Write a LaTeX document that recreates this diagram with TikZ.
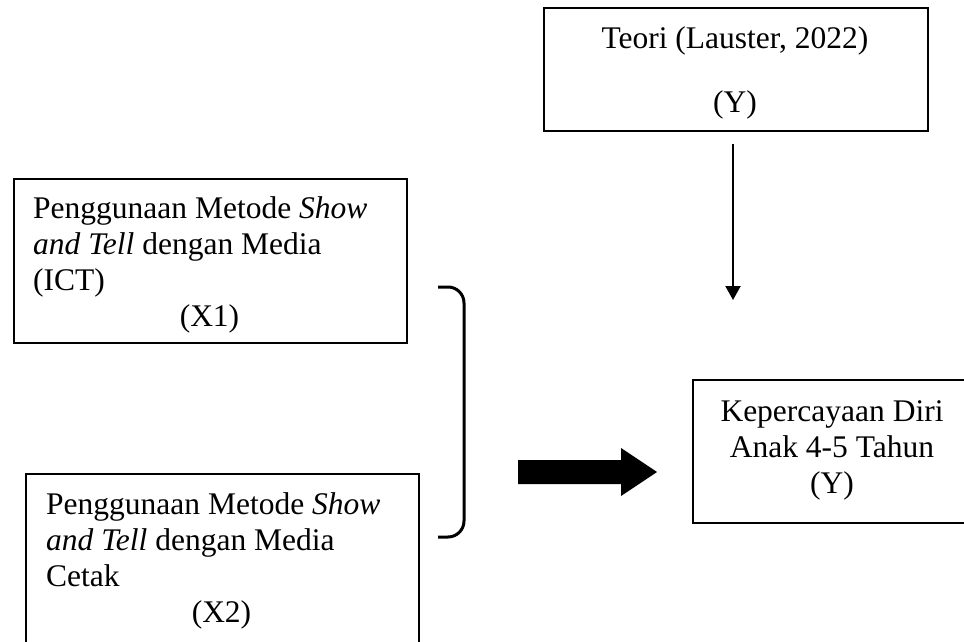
\documentclass[tikz,border=0pt]{standalone}
\usepackage{fontspec}
\setmainfont{Liberation Serif}
\usetikzlibrary{arrows.meta}
\tikzset{
  kotak/.style={draw, line width=2.2pt, inner sep=0pt, anchor=north west},
  baris/.style={anchor=base west, inner sep=0pt},
  tengah/.style={anchor=base, inner sep=0pt},
}
\begin{document}
\begin{tikzpicture}[x=1pt,y=-1pt,font=\fontsize{31.5}{36}\selectfont]
\useasboundingbox (0,0) rectangle (964,642);
\clip (0,0) rectangle (964,642);
% kotak variabel X
\foreach \i/\bx/\by/\h in {1/13/178/164,2/25/473/200} {
  \node[kotak, minimum width=393pt, minimum height=\h pt] (X\i) at (\bx,\by) {};
}
\foreach \i/\x/\y/\c/\m in {1/33/218/209.5/{(ICT)},2/46/514/221.5/Cetak} {
  \node[baris] (P\i) at (\x,\y) {Penggunaan Metode \textit{Show}};
  \node[baris] (Q\i) at (\x,\y+36) {\textit{and Tell} dengan Media};
  \node[baris] (R\i) at (\x,\y+72) {\m};
  \node[tengah] (S\i) at (\c,\y+108) {(X\i)};
}
% teori
\node[kotak, minimum width=384pt, minimum height=123pt] (T) at (543,7) {};
\node[tengah] (T1) at (735,49) {Teori (Lauster, 2022)};
\node[tengah] (T2) at (735,113) {(Y)};
% variabel Y
\node[kotak, minimum width=280pt, minimum height=143pt] (Y) at (692,379) {};
\node[tengah] (Y1) at (832,421) {Kepercayaan Diri};
\node[tengah] (Y2) at (832,457) {Anak 4-5 Tahun};
\node[tengah] (Y3) at (832,493) {(Y)};
% panah
\coordinate (ujung) at (733,300);
\draw[line width=2pt, -{Triangle[width=15pt,length=14pt]}, shorten <=12pt] (T.south -| ujung) -- (ujung);
\draw[line width=3pt, rounded corners=16pt] (438,287) -- (464,287) -- (464,537) -- (438,537);
\fill (518,460) -- (621,460) -- (621,448) -- (657,472) -- (621,496) -- (621,484) -- (518,484) -- cycle;
\end{tikzpicture}
\end{document}
